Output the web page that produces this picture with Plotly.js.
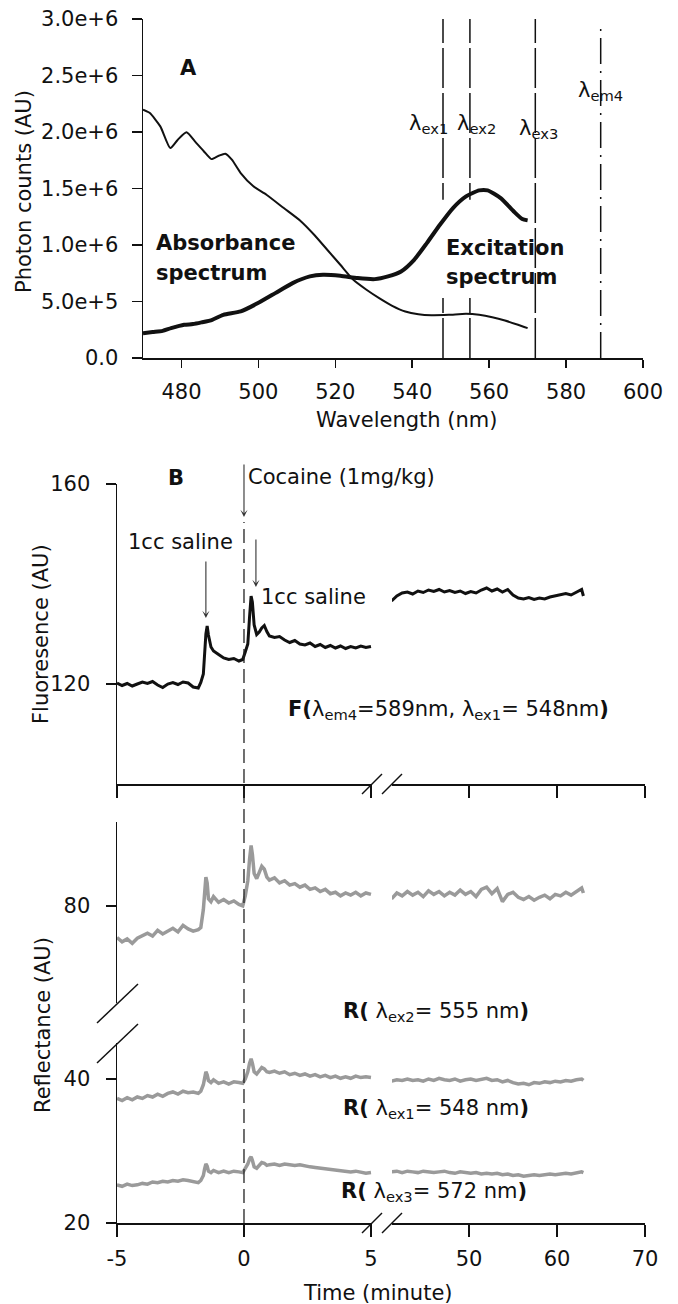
<!DOCTYPE html>
<html><head><meta charset="utf-8">
<script src="https://cdn.plot.ly/plotly-3.0.1.min.js"></script>
<style>html,body{margin:0;padding:0;background:#fff}#chart{width:678px;height:1304px}</style>
</head><body><div id="chart"></div>
<script>
// ---------------- Panel A data ----------------
const absWavelength = [470, 471.7, 474.5, 477.1, 479.0, 481.3, 483.5, 485.8, 487.8, 489.7, 491.4, 493.1, 495.4, 498.7, 502.1, 506.6, 511.1, 514.5, 517.9, 521.3, 524.7, 528.1, 531.4, 534.8, 538.2, 541.6, 545.0, 549.5, 554.0, 557.4, 560.8, 564.1, 567.5, 570.0];
const absCounts = [2.198e6, 2.17e6, 2.05e6, 1.858e6, 1.93e6, 1.997e6, 1.917e6, 1.83e6, 1.76e6, 1.79e6, 1.808e6, 1.755e6, 1.637e6, 1.519e6, 1.445e6, 1.327e6, 1.209e6, 1.091e6, 0.958e6, 0.825e6, 0.692e6, 0.604e6, 0.530e6, 0.462e6, 0.412e6, 0.388e6, 0.379e6, 0.382e6, 0.391e6, 0.382e6, 0.361e6, 0.332e6, 0.294e6, 0.264e6];
const excWavelength = [470, 472.5, 475.1, 477.3, 480.7, 483.0, 485.2, 488.0, 490.9, 495.4, 499.9, 504.4, 508.9, 513.4, 516.8, 521.3, 525.8, 530.3, 533.7, 537.1, 540.5, 543.8, 547.2, 550.6, 554.0, 557.4, 559.6, 563.0, 566.4, 568.6, 570.0];
const excCounts = [0.22e6, 0.23e6, 0.24e6, 0.264e6, 0.294e6, 0.30e6, 0.315e6, 0.338e6, 0.382e6, 0.412e6, 0.486e6, 0.574e6, 0.663e6, 0.722e6, 0.737e6, 0.728e6, 0.707e6, 0.698e6, 0.722e6, 0.766e6, 0.869e6, 1.017e6, 1.179e6, 1.327e6, 1.43e6, 1.483e6, 1.483e6, 1.415e6, 1.297e6, 1.23e6, 1.218e6];
const lambdaLines = [548, 555, 572, 589];
const lambdaNames = ['ex1', 'ex2', 'ex3', 'em4'];
const wavelengthTicks = [480, 500, 520, 540, 560, 580, 600];
const photonTickVals = [0, 5e5, 1e6, 1.5e6, 2e6, 2.5e6, 3e6];
const photonTickLabels = ['0.0', '5.0e+5', '1.0e+6', '1.5e+6', '2.0e+6', '2.5e+6', '3.0e+6'];

// ---------------- Panel B data ----------------
const timeSeg1 = [-5.0,-4.8,-4.6,-4.4,-4.2,-4.0,-3.8,-3.6,-3.4,-3.2,-3.0,-2.8,-2.6,-2.4,-2.2,-2.0,-1.8,-1.7,-1.6,-1.55,-1.5,-1.45,-1.4,-1.3,-1.2,-1.0,-0.8,-0.6,-0.4,-0.2,-0.05,0.05,0.15,0.22,0.28,0.33,0.4,0.5,0.6,0.7,0.8,0.9,1.0,1.2,1.4,1.6,1.8,2.0,2.2,2.4,2.6,2.8,3.0,3.2,3.4,3.6,3.8,4.0,4.2,4.4,4.6,4.8,5.0];
const timeSeg2 = [41.2,41.8,42.4,43.0,43.6,44.2,44.8,45.4,46.0,46.6,47.2,47.8,48.4,49.0,49.6,50.2,50.8,51.4,52.0,52.6,53.2,53.8,54.4,55.0,55.6,56.2,56.8,57.4,58.0,58.6,59.2,59.8,60.4,61.0,61.6,62.2,62.8,63.0];

const fluorSeg1 = [120.2,119.7,120.1,119.6,120.0,120.4,120.1,120.5,119.8,119.3,120.0,120.3,119.9,120.4,120.2,119.4,119.2,120.3,122.0,126.5,130.0,131.6,129.8,127.4,126.6,125.9,125.2,124.9,125.1,124.6,124.9,126.4,128.0,133.5,137.6,136.4,131.8,129.9,130.4,131.2,131.7,130.5,129.6,129.3,129.5,128.8,128.3,128.7,128.0,127.8,128.2,127.5,127.9,127.3,127.7,127.2,127.6,127.1,127.5,127.2,127.6,127.3,127.5];
const fluorSeg2 = [136.6,137.6,138.2,138.4,138.0,138.6,138.3,138.8,138.5,138.9,138.4,138.7,138.3,138.6,138.1,138.5,138.2,138.8,139.2,138.6,139.0,138.4,138.9,137.8,137.2,137.0,137.3,136.9,137.2,137.0,137.4,137.6,137.9,138.1,137.8,138.4,138.9,137.6];

const r555Seg1 = [75.6,75.0,75.4,74.8,75.5,75.9,76.2,75.8,76.6,76.1,76.5,76.9,76.4,77.3,76.8,76.5,76.7,77.0,79.5,82.0,84.0,83.2,81.0,80.6,81.3,80.5,80.9,80.4,80.7,80.2,80.0,81.4,83.5,86.5,88.4,87.2,84.5,83.8,84.6,85.5,85.1,84.0,83.6,83.9,83.2,83.5,82.9,83.1,82.6,82.9,82.3,82.5,82.0,82.3,81.7,81.9,81.4,81.8,81.5,81.9,81.4,81.8,81.6];
const r555Seg2 = [81.0,81.8,81.4,82.0,81.5,81.9,81.3,82.1,81.6,82.0,81.4,81.9,81.5,82.2,81.6,82.0,81.3,82.3,82.6,81.7,82.4,80.6,81.6,81.9,81.2,80.9,81.3,80.8,81.2,81.5,81.0,81.6,81.4,81.9,81.5,82.0,82.5,81.8];
const r548Seg1 = [37.3,37.0,37.4,37.1,37.5,37.3,37.7,37.5,37.9,37.6,38.0,38.2,37.9,38.3,38.1,38.2,38.0,38.3,39.2,40.3,41.0,40.6,39.8,39.5,39.9,39.4,39.6,39.3,39.6,39.5,39.4,40.0,41.0,42.2,42.8,42.2,41.0,40.7,41.2,41.6,41.4,41.0,40.9,41.1,40.8,41.0,40.6,40.8,40.5,40.7,40.4,40.6,40.3,40.5,40.2,40.4,40.1,40.3,40.1,40.4,40.2,40.3,40.2];
const r548Seg2 = [39.7,39.9,39.8,40.0,39.8,39.9,39.7,40.0,39.8,40.1,39.9,39.8,40.0,39.7,39.9,40.0,39.8,39.9,40.1,39.8,39.9,39.6,39.8,39.5,39.3,39.4,39.2,39.5,39.4,39.6,39.5,39.7,39.6,39.8,39.7,39.9,40.0,39.8];
const r572Seg1 = [25.3,25.1,25.4,25.2,25.3,25.5,25.4,25.7,25.6,25.8,25.7,25.9,25.8,26.0,25.9,25.8,25.6,25.9,26.6,27.5,28.2,27.9,27.2,27.0,27.3,27.0,27.2,27.0,27.2,27.1,27.0,27.6,28.2,28.9,29.2,28.7,27.8,27.6,28.0,28.4,28.3,28.0,28.1,28.2,28.0,28.2,28.1,28.0,28.1,27.9,27.8,27.7,27.6,27.5,27.4,27.3,27.3,27.2,27.1,27.2,27.0,26.9,27.0];
const r572Seg2 = [27.1,27.2,27.0,27.2,27.1,27.0,27.2,27.1,27.0,27.1,27.2,27.0,26.9,27.1,27.0,26.9,27.0,26.8,26.9,26.8,26.9,26.7,26.8,26.6,26.7,26.5,26.6,26.7,26.6,26.7,26.8,26.7,26.8,26.9,26.8,27.0,27.1,27.0];

const timeTicksSeg1 = [-5, 0, 5];
const timeTickLabelsSeg1 = ['-5', '0', '5'];
const timeTicksSeg2 = [50, 60, 70];
const timeTickLabelsSeg2 = ['50', '60', '70'];
const injectionTimes = [-1.5, 0, 0.47];

// ---------------- geometry helpers ----------------
const W = 678, H = 1304;
const px = p => p / W;
const py = p => 1 - p / H;
const FONT = 'DejaVu Sans, sans-serif';
const INK = '#111';
const GRAY = '#9a9a9a';

const axBase = {
  showline: true, linecolor: INK, linewidth: 1.5, ticks: 'outside', tickcolor: INK, tickwidth: 1.5,
  showgrid: false, zeroline: false, fixedrange: true, tickmode: 'array',
  tickfont: {family: FONT, size: 21, color: INK}
};

const traces = [
  {x: absWavelength, y: absCounts, xaxis: 'x', yaxis: 'y', mode: 'lines', line: {color: INK, width: 2, shape: 'spline', smoothing: 0.6}},
  {x: excWavelength, y: excCounts, xaxis: 'x', yaxis: 'y', mode: 'lines', line: {color: INK, width: 4, shape: 'spline', smoothing: 0.6}},
  {x: timeSeg1, y: fluorSeg1, xaxis: 'x2', yaxis: 'y2', mode: 'lines', line: {color: INK, width: 3}},
  {x: timeSeg2, y: fluorSeg2, xaxis: 'x3', yaxis: 'y2', mode: 'lines', line: {color: INK, width: 3}},
  {x: timeSeg1, y: r555Seg1, xaxis: 'x4', yaxis: 'y3', mode: 'lines', line: {color: GRAY, width: 3.5}},
  {x: timeSeg2, y: r555Seg2, xaxis: 'x5', yaxis: 'y3', mode: 'lines', line: {color: GRAY, width: 3.5}},
  {x: timeSeg1, y: r548Seg1, xaxis: 'x4', yaxis: 'y4', mode: 'lines', line: {color: GRAY, width: 3.5}},
  {x: timeSeg2, y: r548Seg2, xaxis: 'x5', yaxis: 'y4', mode: 'lines', line: {color: GRAY, width: 3.5}},
  {x: timeSeg1, y: r572Seg1, xaxis: 'x4', yaxis: 'y4', mode: 'lines', line: {color: GRAY, width: 3.5}},
  {x: timeSeg2, y: r572Seg2, xaxis: 'x5', yaxis: 'y4', mode: 'lines', line: {color: GRAY, width: 3.5}}
];

// ---------------- shapes ----------------
const shapes = [];
function lambdaLine(i) {
  const isEm = lambdaNames[i].startsWith('em');
  return {type: 'line', xref: 'x', yref: 'y', x0: lambdaLines[i], x1: lambdaLines[i], y0: 0, y1: isEm ? 2.93e6 : 3e6,
          layer: 'below', line: {color: INK, width: 1.5, dash: isEm ? '26px,7px,2px,7px' : '40px,5px'}};
}
shapes.push(lambdaLine(0), lambdaLine(1));
shapes.push({type: 'rect', xref: 'x', yref: 'y', x0: 545, x1: 558, y0: 0.53e6, y1: 1.40e6, layer: 'below', fillcolor: '#fff', line: {width: 0}});
shapes.push(lambdaLine(2), lambdaLine(3));
shapes.push({type: 'line', xref: 'x2', yref: 'paper', x0: 0, x1: 0, y0: py(1223), y1: py(522), layer: 'above', line: {color: '#222', width: 1.3, dash: '14px,6px'}});
function slash(x0, y0, x1, y1) {
  return {type: 'line', xref: 'paper', yref: 'paper', x0: px(x0), y0: py(y0), x1: px(x1), y1: py(y1), layer: 'above', line: {color: INK, width: 1.5}};
}
[784, 1223].forEach(yy => {
  shapes.push(slash(362, yy + 10, 382, yy - 10));
  shapes.push(slash(382, yy + 10, 402, yy - 10));
});
shapes.push(slash(97, 1023, 138, 984));
shapes.push(slash(97, 1063, 138, 1024));

// ---------------- annotations ----------------
function txt(text, x, y, opts) {
  return Object.assign({text: text, xref: 'paper', yref: 'paper', x: px(x), y: py(y), showarrow: false,
    xanchor: 'center', yanchor: 'middle', font: {family: FONT, size: 21, color: INK}}, opts || {});
}
const annotations = [
  txt('<b>A</b>', 188, 68),
  txt('<b>Absorbance</b>', 154, 243, {xanchor: 'left'}),
  txt('<b>spectrum</b>', 154, 273, {xanchor: 'left'}),
  txt('<b>Excitation</b>', 444, 248, {xanchor: 'left'}),
  txt('<b>spectrum</b>', 444, 277, {xanchor: 'left'}),
  txt('λ<sub>' + lambdaNames[0] + '</sub>', 428, 124),
  txt('λ<sub>' + lambdaNames[1] + '</sub>', 476, 124),
  txt('λ<sub>' + lambdaNames[2] + '</sub>', 538, 129),
  txt('λ<sub>' + lambdaNames[3] + '</sub>', 600, 91),
  txt('Photon counts (AU)', 24, 192, {textangle: -90}),
  txt('Wavelength (nm)', 406, 420),
  txt('<b>B</b>', 176, 478),
  txt('Cocaine (1mg/kg)', 246, 477, {xanchor: 'left'}),
  txt('1cc saline', 235, 542, {xanchor: 'right'}),
  txt('1cc saline', 259, 597, {xanchor: 'left'}),
  txt('<b>F(</b>λ<sub>em4</sub>=589nm, λ<sub>ex1</sub>= 548nm<b>)</b>', 286, 710, {xanchor: 'left'}),
  txt('<b>R(</b> λ<sub>ex2</sub>= 555 nm<b>)</b>', 341, 1012, {xanchor: 'left'}),
  txt('<b>R(</b> λ<sub>ex1</sub>= 548 nm<b>)</b>', 341, 1109, {xanchor: 'left'}),
  txt('<b>R(</b> λ<sub>ex3</sub>= 572 nm<b>)</b>', 339, 1192, {xanchor: 'left'}),
  txt('Fluoresence (AU)', 41, 634, {textangle: -90}),
  txt('Reflectance (AU)', 43, 1025, {textangle: -90}),
  txt('Time (minute)', 378, 1293)
];
const arrowTipY = [618, 517, 587];
const arrowLen = [58, 54, 49];
injectionTimes.forEach((t, i) => {
  annotations.push({text: '', xref: 'x2', yref: 'paper', x: t, y: py(arrowTipY[i]), showarrow: true,
    ax: 0, ay: -arrowLen[i], arrowhead: 3, arrowsize: 1.1, arrowwidth: 1.1, arrowcolor: '#333', standoff: 0, startstandoff: 0});
});

const layout = {
  width: W, height: H, margin: {l: 0, r: 0, t: 0, b: 0},
  paper_bgcolor: '#fff', plot_bgcolor: 'rgba(0,0,0,0)', showlegend: false,
  font: {family: FONT, size: 21, color: INK},
  xaxis: Object.assign({}, axBase, {domain: [px(143), px(643)], range: [470, 600], tickvals: wavelengthTicks,
    ticktext: wavelengthTicks.map(String), ticklen: 8, anchor: 'y', ticklabelstandoff: 6}),
  yaxis: Object.assign({}, axBase, {domain: [py(358), py(19)], range: [0, 3e6], tickvals: photonTickVals,
    ticktext: photonTickLabels, ticklen: 10, anchor: 'x', ticklabelstandoff: 9}),
  xaxis2: Object.assign({}, axBase, {domain: [px(117), px(372)], range: [-5, 5.04], tickvals: timeTicksSeg1,
    showticklabels: false, ticklen: 12, anchor: 'y2'}),
  xaxis3: Object.assign({}, axBase, {domain: [px(392), px(645)], range: [41.25, 70], tickvals: timeTicksSeg2,
    showticklabels: false, ticklen: 12, anchor: 'y2'}),
  yaxis2: Object.assign({}, axBase, {domain: [py(784), py(484)], range: [100, 160], tickvals: [120, 160],
    ticktext: ['120', '160'], ticklen: 10, anchor: 'x2', ticklabelstandoff: 11}),
  xaxis4: Object.assign({}, axBase, {domain: [px(117), px(372)], range: [-5, 5.04], tickvals: timeTicksSeg1,
    ticktext: timeTickLabelsSeg1, ticklen: 12, anchor: 'y4', ticklabelstandoff: 4}),
  xaxis5: Object.assign({}, axBase, {domain: [px(392), px(645)], range: [41.25, 70], tickvals: timeTicksSeg2,
    ticktext: timeTickLabelsSeg2, ticklen: 12, anchor: 'y4', ticklabelstandoff: 4}),
  yaxis3: Object.assign({}, axBase, {domain: [py(1003), py(822)], range: [66.5, 91.67], tickvals: [80],
    ticktext: ['80'], ticklen: 10, anchor: 'x4', ticklabelstandoff: 11}),
  yaxis4: Object.assign({}, axBase, {domain: [py(1223), py(1043)], range: [20, 45], tickvals: [20, 40],
    ticktext: ['20', '40'], ticklen: 10, anchor: 'x4', ticklabelstandoff: 11}),
  shapes: shapes,
  annotations: annotations
};

Plotly.newPlot('chart', traces, layout, {staticPlot: true, displayModeBar: false});
</script></body></html>
